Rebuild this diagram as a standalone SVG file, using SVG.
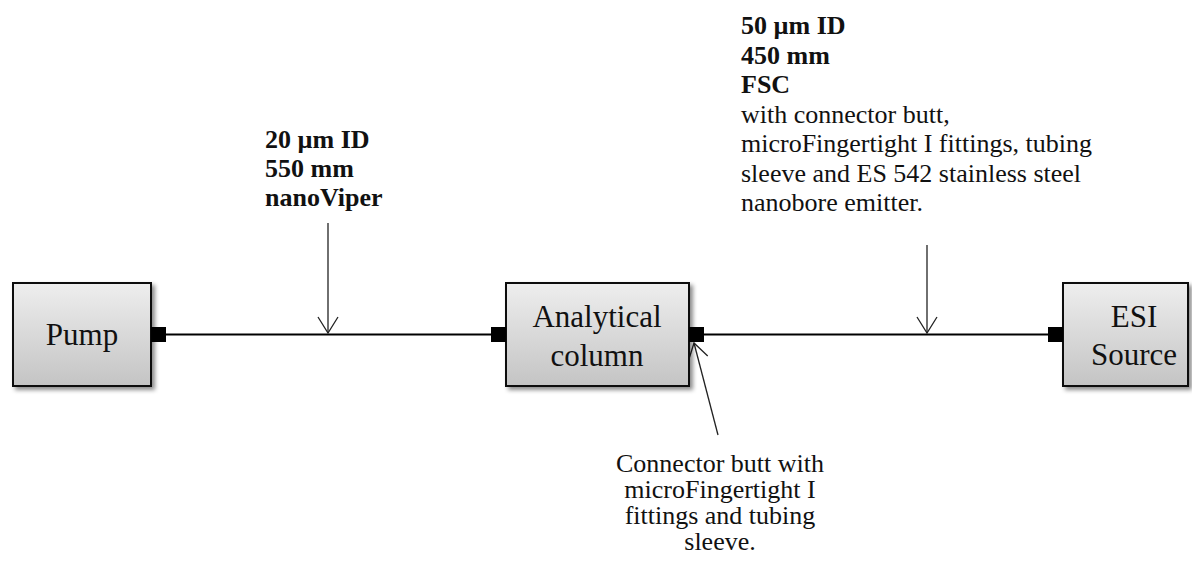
<svg xmlns="http://www.w3.org/2000/svg" width="1192" height="563" viewBox="0 0 1192 563">
  <defs>
    <linearGradient id="boxGrad" x1="0" y1="0" x2="0" y2="1">
      <stop offset="0" stop-color="#eeeeee"/>
      <stop offset="1" stop-color="#c4c4c4"/>
    </linearGradient>
    <filter id="shadow" x="-10%" y="-10%" width="130%" height="130%">
      <feDropShadow dx="3" dy="3" stdDeviation="2" flood-color="#000" flood-opacity="0.45"/>
    </filter>
    <marker id="openArrow" viewBox="-18 -12 20 24" refX="0" refY="0" markerWidth="20" markerHeight="24" markerUnits="userSpaceOnUse" orient="auto">
      <path d="M -16 -10 L 0 0 L -16 10" fill="none" stroke="#222" stroke-width="1.3"/>
    </marker>
  </defs>
  <style>
    .box { fill: url(#boxGrad); stroke: #111; stroke-width: 2; filter: url(#shadow); }
    .port { fill: #000; }
    .node-text { font-family: "Liberation Serif", "Times New Roman", serif; font-size: 31px; fill: #111; text-anchor: middle; }
    .label { font-family: "Liberation Serif", "Times New Roman", serif; font-size: 26px; fill: #111; }
    .bold { font-weight: bold; }
    .tube { stroke: #000; stroke-width: 2; fill: none; }
    .pointer { stroke: #222; stroke-width: 1.3; fill: none; marker-end: url(#openArrow); }
  </style>

  <g id="connectors">
    <line class="tube" x1="166" y1="334.5" x2="491" y2="334.5"/>
    <line class="tube" x1="704" y1="334.5" x2="1048" y2="334.5"/>
    <line class="pointer" x1="328" y1="223" x2="328" y2="333"/>
    <line class="pointer" x1="927" y1="245" x2="927" y2="333"/>
    <line class="pointer" x1="718" y1="435" x2="694" y2="343"/>
  </g>

  <g id="pump">
    <rect class="box" x="13" y="283" width="138" height="103"/>
    <rect class="port" x="151" y="327" width="15" height="15"/>
    <text class="node-text" x="82" y="345">Pump</text>
  </g>

  <g id="analytical-column">
    <rect class="box" x="506" y="283" width="183" height="103"/>
    <rect class="port" x="491" y="327" width="15" height="15"/>
    <rect class="port" x="689" y="327" width="15" height="15"/>
    <text class="node-text" x="597" y="327">Analytical</text>
    <text class="node-text" x="597" y="366">column</text>
  </g>

  <g id="esi-source">
    <rect class="box" x="1063" y="283" width="125" height="103"/>
    <rect class="port" x="1048" y="327" width="15" height="15"/>
    <text class="node-text" x="1134" y="327">ESI</text>
    <text class="node-text" x="1134" y="365">Source</text>
  </g>

  <g id="label-nanoviper">
    <text class="label bold" x="265" y="148">20 µm ID</text>
    <text class="label bold" x="265" y="177">550 mm</text>
    <text class="label bold" x="265" y="206">nanoViper</text>
  </g>

  <g id="label-fsc">
    <text class="label bold" x="741" y="34">50 µm ID</text>
    <text class="label bold" x="741" y="63.5">450 mm</text>
    <text class="label bold" x="741" y="93">FSC</text>
    <text class="label" x="741" y="122.5">with connector butt,</text>
    <text class="label" x="741" y="152">microFingertight I fittings, tubing</text>
    <text class="label" x="741" y="181.5">sleeve and ES 542 stainless steel</text>
    <text class="label" x="741" y="211">nanobore emitter.</text>
  </g>

  <g id="label-connector">
    <text class="label" x="720" y="472" text-anchor="middle">Connector butt with</text>
    <text class="label" x="720" y="498" text-anchor="middle">microFingertight I</text>
    <text class="label" x="720" y="524" text-anchor="middle">fittings and tubing</text>
    <text class="label" x="720" y="550" text-anchor="middle">sleeve.</text>
  </g>
</svg>
